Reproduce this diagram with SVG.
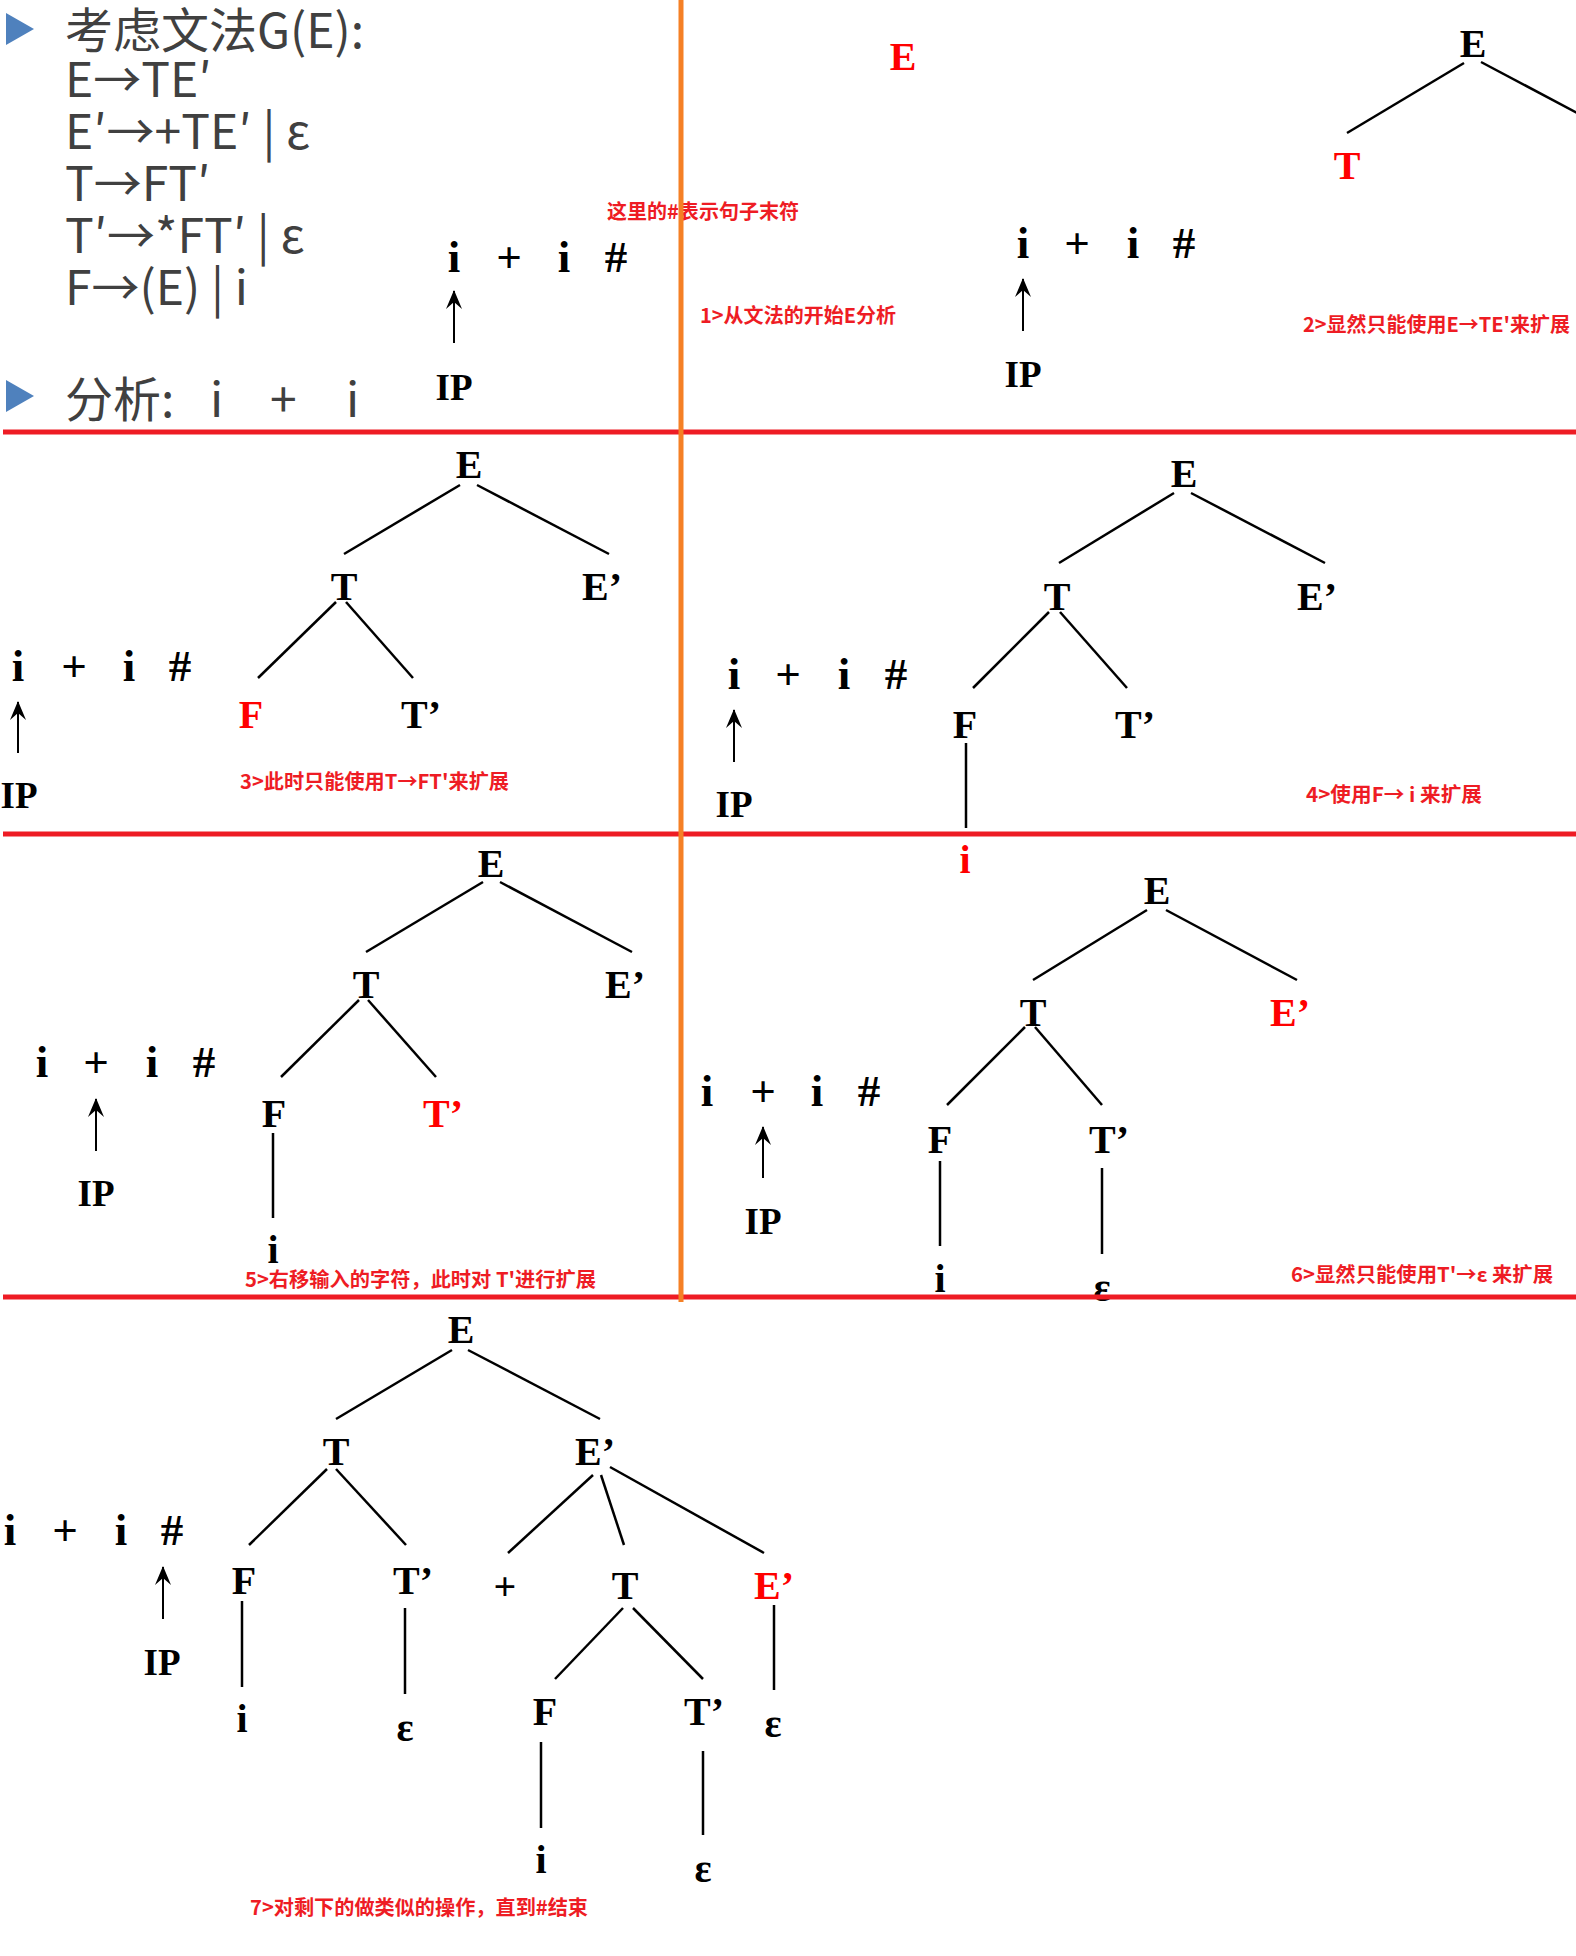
<svg xmlns="http://www.w3.org/2000/svg" width="1576" height="1956" viewBox="0 0 1576 1956">
<style>
.s{font-family:"Liberation Serif","Times New Roman",serif;font-weight:bold;font-size:40px;fill:#000}
.in{font-family:"Liberation Serif","Times New Roman",serif;font-weight:bold;font-size:45px;fill:#000;text-anchor:middle}
.m{text-anchor:middle}
.r{fill:#ff0000}
.ip{font-family:"Liberation Serif","Times New Roman",serif;font-weight:bold;font-size:37px;fill:#000;text-anchor:middle}
.ann{font-family:"Noto Sans CJK SC","Noto Sans",sans-serif;font-weight:bold;font-size:20px;fill:#ee1c24}
.g{font-family:"Noto Sans CJK SC","Noto Sans",sans-serif;font-size:48px;fill:#404040}
.e{stroke:#000;stroke-width:2.5;fill:none}
.a{stroke:#000;stroke-width:2;fill:none}
.sep{stroke:#ee1c24;stroke-width:5}
</style>
<defs>
<marker id="up" viewBox="-20 -10 22 20" refX="0" refY="0" markerWidth="22" markerHeight="20" markerUnits="userSpaceOnUse" orient="auto">
<path d="M1,0 L-18,-8 L-11,0 L-18,8 Z" fill="#000"/>
</marker>
</defs>

<g id="grammar">
<polygon points="6,13 34,29 6,45" fill="#4f81bd"/>
<polygon points="6,380 34,396 6,412" fill="#4f81bd"/>
<text class="g"><tspan x="65" y="48">考虑文法G(E):</tspan><tspan x="65" y="97">E→TE′</tspan><tspan x="65" y="149">E′→+TE′ | ε</tspan><tspan x="65" y="201">T→FT′</tspan><tspan x="65" y="253">T′→*FT′ | ε</tspan><tspan x="65" y="305">F→(E) | i</tspan><tspan x="65" y="417">分析:</tspan><tspan x="210" y="417">i</tspan><tspan x="270" y="417">+</tspan><tspan x="346" y="417">i</tspan></text>
</g>

<g id="panel1">
<g class="in"><text x="454" y="272">i</text><text x="509" y="272">+</text><text x="564" y="272">i</text><text x="616" y="272">#</text></g>
<line class="a" x1="454" y1="343" x2="454" y2="291" marker-end="url(#up)"/>
<text class="ip" x="454" y="400">IP</text>
<text class="ann" x="607" y="219" textLength="192" lengthAdjust="spacingAndGlyphs">这里的#表示句子末符</text>
</g>

<g id="panel2">
<text class="s m r" x="903" y="70">E</text>
<g class="in"><text x="1023" y="258">i</text><text x="1077" y="258">+</text><text x="1133" y="258">i</text><text x="1184" y="258">#</text></g>
<line class="a" x1="1023" y1="331" x2="1023" y2="279" marker-end="url(#up)"/>
<text class="ip" x="1023" y="387">IP</text>
<text class="ann" x="700" y="323" textLength="196" lengthAdjust="spacingAndGlyphs">1&gt;从文法的开始E分析</text>
<g id="p2-E"><text class="s m" x="1473" y="57">E</text></g>
<g id="p2-T"><text class="s m r" x="1347" y="179">T</text></g>
<g id="p2-edges"><line class="e" x1="1464" y1="63" x2="1347" y2="133"/><line class="e" x1="1481" y1="62" x2="1600" y2="125"/></g>
<text class="ann" x="1303" y="332" textLength="267" lengthAdjust="spacingAndGlyphs">2&gt;显然只能使用E→TE'来扩展</text>
</g>

<g id="panel3">
<g class="in"><text x="18" y="681">i</text><text x="74" y="681">+</text><text x="129" y="681">i</text><text x="180" y="681">#</text></g>
<line class="a" x1="18" y1="753" x2="18" y2="702" marker-end="url(#up)"/>
<text class="ip" x="19" y="808">IP</text>
<g id="p3-E"><text class="s m" x="469" y="478">E</text></g>
<g id="p3-T"><text class="s m" x="344" y="600">T</text></g>
<g id="p3-E2"><text class="s" x="582" y="600">E’</text></g>
<g id="p3-F"><text class="s m r" x="251" y="728">F</text></g>
<g id="p3-T2"><text class="s" x="401" y="728">T’</text></g>
<g id="p3-edges">
<line class="e" x1="460" y1="485" x2="344" y2="554"/><line class="e" x1="477" y1="485" x2="609" y2="554"/>
<line class="e" x1="336" y1="602" x2="258" y2="678"/><line class="e" x1="346" y1="602" x2="413" y2="678"/>
</g>
<text class="ann" x="240" y="789" textLength="269" lengthAdjust="spacingAndGlyphs">3&gt;此时只能使用T→FT'来扩展</text>
</g>

<g id="panel4">
<g class="in"><text x="734" y="689">i</text><text x="788" y="689">+</text><text x="844" y="689">i</text><text x="896" y="689">#</text></g>
<line class="a" x1="734" y1="762" x2="734" y2="710" marker-end="url(#up)"/>
<text class="ip" x="734" y="817">IP</text>
<g id="p4-E"><text class="s m" x="1184" y="487">E</text></g>
<g id="p4-T"><text class="s m" x="1057" y="610">T</text></g>
<g id="p4-E2"><text class="s" x="1297" y="610">E’</text></g>
<g id="p4-F"><text class="s m" x="965" y="738">F</text></g>
<g id="p4-T2"><text class="s" x="1115" y="738">T’</text></g>
<g id="p4-i"><text class="s m r" x="965" y="873">i</text></g>
<g id="p4-edges">
<line class="e" x1="1174" y1="493" x2="1059" y2="563"/><line class="e" x1="1191" y1="493" x2="1325" y2="563"/>
<line class="e" x1="1049" y1="612" x2="973" y2="688"/><line class="e" x1="1060" y1="612" x2="1127" y2="688"/>
<line class="e" x1="966" y1="743" x2="966" y2="828"/>
</g>
<text class="ann" x="1306" y="802" textLength="176" lengthAdjust="spacingAndGlyphs">4&gt;使用F→ i 来扩展</text>
</g>

<g id="panel5">
<g class="in"><text x="42" y="1077">i</text><text x="96" y="1077">+</text><text x="152" y="1077">i</text><text x="204" y="1077">#</text></g>
<line class="a" x1="96" y1="1151" x2="96" y2="1099" marker-end="url(#up)"/>
<text class="ip" x="96" y="1206">IP</text>
<g id="p5-E"><text class="s m" x="491" y="877">E</text></g>
<g id="p5-T"><text class="s m" x="366" y="998">T</text></g>
<g id="p5-E2"><text class="s" x="605" y="998">E’</text></g>
<g id="p5-F"><text class="s m" x="274" y="1127">F</text></g>
<g id="p5-T2"><text class="s r" x="423" y="1127">T’</text></g>
<g id="p5-i"><text class="s m" x="273" y="1263">i</text></g>
<g id="p5-edges">
<line class="e" x1="483" y1="882" x2="366" y2="952"/><line class="e" x1="500" y1="882" x2="632" y2="952"/>
<line class="e" x1="359" y1="1000" x2="281" y2="1077"/><line class="e" x1="368" y1="1000" x2="436" y2="1077"/>
<line class="e" x1="273" y1="1133" x2="273" y2="1218"/>
</g>
<text class="ann" x="245" y="1287" textLength="351" lengthAdjust="spacingAndGlyphs">5&gt;右移输入的字符，此时对 T'进行扩展</text>
</g>

<g id="panel6">
<g class="in"><text x="707" y="1106">i</text><text x="763" y="1106">+</text><text x="817" y="1106">i</text><text x="869" y="1106">#</text></g>
<line class="a" x1="763" y1="1178" x2="763" y2="1127" marker-end="url(#up)"/>
<text class="ip" x="763" y="1234">IP</text>
<g id="p6-E"><text class="s m" x="1157" y="904">E</text></g>
<g id="p6-T"><text class="s m" x="1033" y="1026">T</text></g>
<g id="p6-E2"><text class="s r" x="1270" y="1026">E’</text></g>
<g id="p6-F"><text class="s m" x="940" y="1153">F</text></g>
<g id="p6-T2"><text class="s" x="1089" y="1153">T’</text></g>
<g id="p6-i"><text class="s m" x="940" y="1292">i</text></g>
<g id="p6-eps"><text class="s m" x="1102" y="1301">ε</text></g>
<g id="p6-edges">
<line class="e" x1="1147" y1="910" x2="1033" y2="980"/><line class="e" x1="1166" y1="910" x2="1297" y2="980"/>
<line class="e" x1="1025" y1="1027" x2="947" y2="1105"/><line class="e" x1="1035" y1="1027" x2="1102" y2="1105"/>
<line class="e" x1="940" y1="1161" x2="940" y2="1246"/><line class="e" x1="1102" y1="1168" x2="1102" y2="1254"/>
</g>
<text class="ann" x="1291" y="1282" textLength="262" lengthAdjust="spacingAndGlyphs">6&gt;显然只能使用T'→ε 来扩展</text>
</g>

<g id="panel7">
<g class="in"><text x="10" y="1545">i</text><text x="65" y="1545">+</text><text x="121" y="1545">i</text><text x="172" y="1545">#</text></g>
<line class="a" x1="163" y1="1619" x2="163" y2="1567" marker-end="url(#up)"/>
<text class="ip" x="162" y="1675">IP</text>
<g id="p7-E"><text class="s m" x="461" y="1343">E</text></g>
<g id="p7-T"><text class="s m" x="336" y="1465">T</text></g>
<g id="p7-E2"><text class="s" x="575" y="1465">E’</text></g>
<g id="p7-F"><text class="s m" x="244" y="1594">F</text></g>
<g id="p7-T2"><text class="s" x="393" y="1594">T’</text></g>
<g id="p7-i"><text class="s m" x="242" y="1732">i</text></g>
<g id="p7-eps1"><text class="s m" x="405" y="1741">ε</text></g>
<g id="p7-plus"><text class="s m" x="505" y="1600">+</text></g>
<g id="p7-T3"><text class="s m" x="625" y="1599">T</text></g>
<g id="p7-E3"><text class="s r" x="754" y="1599">E’</text></g>
<g id="p7-F2"><text class="s m" x="545" y="1725">F</text></g>
<g id="p7-T4"><text class="s" x="684" y="1725">T’</text></g>
<g id="p7-eps2"><text class="s m" x="773" y="1737">ε</text></g>
<g id="p7-i2"><text class="s m" x="541" y="1873">i</text></g>
<g id="p7-eps3"><text class="s m" x="703" y="1882">ε</text></g>
<g id="p7-edges">
<line class="e" x1="452" y1="1350" x2="336" y2="1419"/><line class="e" x1="468" y1="1350" x2="600" y2="1419"/>
<line class="e" x1="327" y1="1469" x2="249" y2="1545"/><line class="e" x1="336" y1="1469" x2="406" y2="1545"/>
<line class="e" x1="242" y1="1601" x2="242" y2="1687"/><line class="e" x1="405" y1="1608" x2="405" y2="1694"/>
<line class="e" x1="593" y1="1475" x2="508" y2="1553"/><line class="e" x1="601" y1="1475" x2="624" y2="1545"/>
<line class="e" x1="610" y1="1467" x2="764" y2="1553"/>
<line class="e" x1="623" y1="1608" x2="555" y2="1679"/><line class="e" x1="633" y1="1608" x2="703" y2="1679"/>
<line class="e" x1="774" y1="1605" x2="774" y2="1690"/>
<line class="e" x1="541" y1="1742" x2="541" y2="1828"/><line class="e" x1="703" y1="1751" x2="703" y2="1835"/>
</g>
<text class="ann" x="250" y="1915" textLength="338" lengthAdjust="spacingAndGlyphs">7&gt;对剩下的做类似的操作，直到#结束</text>
</g>

<g id="separators">
<line class="sep" x1="3" y1="432" x2="1576" y2="432"/>
<line class="sep" x1="3" y1="834" x2="1576" y2="834"/>
<line class="sep" x1="3" y1="1297" x2="1576" y2="1297"/>
<line x1="681" y1="0" x2="681" y2="1302" stroke="#f58025" stroke-width="5"/>
</g>
</svg>
